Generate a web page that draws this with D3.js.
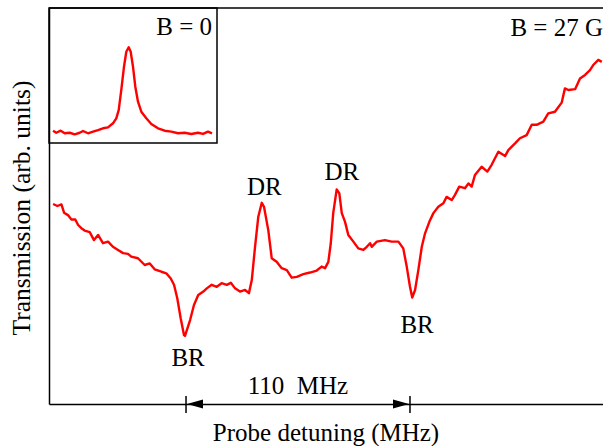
<!DOCTYPE html>
<html lang="en">
<head>
<meta charset="utf-8">
<title>Transmission vs probe detuning</title>
<style>
    body { margin: 0; background: #fff; }
    svg text { font-family: "Liberation Serif", "DejaVu Serif", serif; fill: #000; font-size: 25px; }
    .trace { fill: none; stroke: #ff0000; stroke-width: 2.4px; stroke-linejoin: round; }
    .frame { stroke: #000; stroke-width: 1.5px; fill: none; }
</style>
</head>
<body>
<div id="chart"></div>
<script src="https://d3js.org/d3.v7.min.js"></script>
<script>
    // main trace, B = 27 G (detuning in MHz, transmission in arb. units)
    const detuning = [-65.3, -63.2, -61.2, -59.9, -58.0, -56.3, -54.4, -53.0, -51.4, -49.8, -47.3, -45.2, -43.2, -40.8,
        -38.3, -35.9, -33.4, -30.9, -28.5, -26.9, -23.6, -20.3, -17.8, -15.4, -12.1, -9.7, -7.5, -5.9, -4.3, -2.6,
        -1.0, -0.5, 2.0, 3.9, 6.0, 8.5, 10.2, 12.6, 15.1, 17.5, 20.0, 22.0, 24.1, 26.5, 29.0, 30.9, 32.3, 33.9, 35.5,
        37.2, 38.3, 40.4, 42.1, 44.5, 47.0, 49.5, 51.9, 54.4, 57.6, 60.9, 64.2, 66.6, 68.3, 69.9, 71.1, 72.3, 74.0,
        75.3, 76.5, 78.1, 79.7, 82.2, 84.6, 87.1, 88.8, 90.4, 91.2, 93.7, 97.7, 101.0, 104.3, 106.7, 108.4, 110.0,
        111.1, 112.5, 114.1, 115.8, 117.4, 119.5, 121.5, 123.9, 126.4, 128.0, 130.5, 132.1, 134.2, 137.0, 138.7,
        140.3, 141.9, 145.2, 148.0, 150.1, 153.4, 156.7, 158.3, 161.6, 164.0, 167.3, 169.8, 172.2, 175.5, 177.9,
        181.2, 184.5, 186.1, 187.8, 191.1, 193.5, 196.0, 198.4, 200.0, 202.5, 204.2];
    const transmission = [50.5, 50.0, 50.4, 48.3, 47.7, 46.6, 46.6, 45.2, 44.4, 43.8, 43.4, 41.4, 42.7, 40.6,
        41.0, 39.7, 38.9, 38.1, 37.9, 37.2, 36.8, 35.1, 35.5, 34.0, 33.4, 33.0, 31.7, 30.1, 26.7, 21.6,
        17.4, 17.2, 21.2, 25.0, 27.5, 28.4, 29.2, 30.1, 29.6, 30.5, 30.1, 30.6, 29.2, 28.4, 28.8, 28.0, 31.3, 39.7, 47.3,
        50.8, 49.8, 43.9, 36.8, 35.9, 34.3, 33.8, 31.9, 32.1, 32.8, 33.2, 33.7, 34.7, 34.3, 35.9, 40.6, 48.2, 54.2,
        53.2, 48.2, 46.0, 42.7, 41.0, 39.3, 38.9, 39.7, 40.6, 39.7, 41.0, 41.4, 41.0, 41.0, 39.3, 34.7, 29.6,
        26.9, 28.8, 33.8, 39.7, 43.1, 46.0, 48.2, 49.8, 50.7, 52.3, 51.5, 52.8, 54.9, 54.5, 55.7,
        54.9, 57.8, 59.9, 58.7, 60.4, 63.7, 62.6, 64.1, 65.8, 67.1, 67.9, 70.5, 70.5, 71.3, 73.4,
        73.8, 76.1, 79.7, 79.3, 79.5, 82.2, 83.1, 84.3, 85.6, 86.9, 86.4];

    // inset trace, B = 0
    const insetDetuning = [-76, -72.7, -68.3, -64.3, -59.3, -54.3, -49.3, -46, -41, -36, -31, -26, -21, -16, -12.7,
        -10.3, -7.7, -5, -2.7, -0.3, 1.7, 4, 6.3, 9, 12.3, 17.3, 22.3, 29, 35.7, 42.3, 49, 55.7, 62.3, 69, 74, 79, 83];
    const insetTransmission = [9.1, 7.6, 9.1, 7.2, 7.6, 6.4, 7.6, 8.9, 7.2, 8.4, 9.6, 10.9, 11.6, 14.6, 18.3,
        24.4, 39.3, 56.5, 67.6, 70.9, 67.6, 56.5, 41.7, 30.6, 23.2, 18.3, 14.1, 10.9, 9.1, 8.4, 7.2, 7.6, 6.7, 7.6, 6.7, 8.4, 7.2];

    // peak labels
    const peakLabels = ["BR", "DR", "DR", "BR"];
    const peakPos = [1.0, 38.5, 76.5, 113.5];
    const peakLabelY = [9.5, 52.7, 56.5, 18.0];
    const spacing = [0, 110];

    const width = 603, height = 446;
    const svg = d3.select("#chart").append("svg")
        .attr("width", width).attr("height", height);

    const x = d3.scaleLinear().domain([-67.3, 204.8]).range([49, 603]);
    const y = d3.scaleLinear().domain([0, 100]).range([404, 8]);

    // frame: left axis, bottom axis, top line
    svg.append("g")
        .attr("transform", "translate(0,404)")
        .call(d3.axisBottom(x).tickValues([]).tickSizeOuter(0))
        .select(".domain").attr("stroke-width", 1.5);
    svg.append("g")
        .attr("transform", "translate(49,0)")
        .call(d3.axisLeft(y).tickValues([]).tickSizeOuter(0))
        .select(".domain").attr("stroke-width", 1.5);
    svg.append("line").attr("class", "frame")
        .attr("x1", x.range()[0]).attr("x2", x.range()[1])
        .attr("y1", y.range()[1]).attr("y2", y.range()[1]);

    const line = d3.line().x(d => x(d[0])).y(d => y(d[1]));
    svg.append("path").attr("class", "trace")
        .attr("d", line(detuning.map((d, i) => [d, transmission[i]])));

    // 110 MHz spacing marker on the axis
    spacing.forEach(v => {
        svg.append("line").attr("stroke", "#000").attr("stroke-width", 1.5)
            .attr("x1", x(v)).attr("x2", x(v)).attr("y1", 396).attr("y2", 413);
    });
    const ax0 = x(spacing[0]), ax1 = x(spacing[1]);
    svg.append("path").attr("fill", "#000")
        .attr("d", `M${ax0 + 1},404 L${ax0 + 17},399.5 L${ax0 + 17},408.5 Z`);
    svg.append("path").attr("fill", "#000")
        .attr("d", `M${ax1 - 1},404 L${ax1 - 17},399.5 L${ax1 - 17},408.5 Z`);
    svg.append("text").attr("x", (ax0 + ax1) / 2).attr("y", 394)
        .attr("text-anchor", "middle")
        .style("white-space", "pre").text("110  MHz");

    // peak labels
    peakLabels.forEach((t, i) => {
        svg.append("text").attr("x", x(peakPos[i])).attr("y", y(peakLabelY[i]))
            .attr("text-anchor", "middle").text(t);
    });

    svg.append("text").attr("x", 603).attr("y", 36)
        .attr("text-anchor", "end").text("B = 27 G");

    // axis titles
    svg.append("text").attr("x", 326).attr("y", 441)
        .attr("text-anchor", "middle").text("Probe detuning (MHz)");
    svg.append("text").attr("transform", "translate(30,208) rotate(-90)")
        .attr("text-anchor", "middle").style("font-size", "25.5px").text("Transmission (arb. units)");

    // inset
    const ix = d3.scaleLinear().domain([-80, 88]).range([49, 217]);
    const iy = d3.scaleLinear().domain([0, 100]).range([143, 8]);
    svg.append("rect").attr("class", "frame")
        .attr("x", ix.range()[0]).attr("y", iy.range()[1])
        .attr("width", ix.range()[1] - ix.range()[0]).attr("height", iy.range()[0] - iy.range()[1])
        .attr("fill", "#fff");
    const iline = d3.line().x(d => ix(d[0])).y(d => iy(d[1]));
    svg.append("path").attr("class", "trace")
        .attr("d", iline(insetDetuning.map((d, i) => [d, insetTransmission[i]])));
    svg.append("text").attr("x", 212).attr("y", 35)
        .attr("text-anchor", "end").text("B = 0");
</script>
</body>
</html>
